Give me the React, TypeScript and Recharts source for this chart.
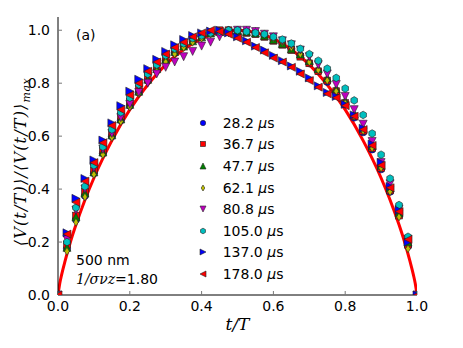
import React from "react";
import { ComposedChart, Scatter, Line, XAxis, YAxis, Legend } from "recharts";

// sample positions t/T shared by all measured series
const tGrid = [
  0, 0.025, 0.05, 0.075, 0.1, 0.125, 0.15, 0.175, 0.2, 0.225, 0.25, 0.275, 0.3, 0.325,
  0.35, 0.375, 0.4, 0.425, 0.45, 0.475, 0.5, 0.525, 0.55, 0.575, 0.6, 0.625, 0.65,
  0.675, 0.7, 0.725, 0.75, 0.775, 0.8, 0.825, 0.85, 0.875, 0.9, 0.925, 0.95, 0.975, 1,
];

// normalised voltage, one array per pulse length
const v28 = [
  0, 0.175, 0.285, 0.375, 0.46, 0.535, 0.6, 0.66, 0.715, 0.765, 0.81, 0.85, 0.885, 0.915,
  0.94, 0.96, 0.975, 0.99, 0.995, 1.0, 1.0, 0.995, 0.99, 0.98, 0.965, 0.95, 0.93, 0.905,
  0.875, 0.845, 0.805, 0.765, 0.72, 0.67, 0.615, 0.55, 0.475, 0.39, 0.3, 0.185, 0,
];
const v36 = [
  0, 0.19, 0.3, 0.39, 0.47, 0.545, 0.61, 0.675, 0.73, 0.78, 0.825, 0.86, 0.895, 0.925,
  0.945, 0.965, 0.98, 0.99, 1.0, 1.0, 0.995, 0.99, 0.985, 0.975, 0.96, 0.945, 0.925, 0.9,
  0.875, 0.845, 0.81, 0.77, 0.725, 0.675, 0.62, 0.555, 0.48, 0.395, 0.3, 0.19, 0,
];
const v47 = [
  0, 0.18, 0.295, 0.385, 0.465, 0.54, 0.605, 0.665, 0.72, 0.77, 0.815, 0.855, 0.89, 0.92,
  0.94, 0.96, 0.975, 0.99, 0.995, 1.0, 1.0, 0.995, 0.99, 0.98, 0.965, 0.95, 0.93, 0.91,
  0.885, 0.855, 0.82, 0.78, 0.735, 0.685, 0.63, 0.565, 0.49, 0.405, 0.31, 0.2, 0,
];
const v62 = [
  0, 0.165, 0.275, 0.37, 0.455, 0.53, 0.595, 0.655, 0.71, 0.76, 0.805, 0.845, 0.88, 0.91,
  0.935, 0.955, 0.97, 0.985, 0.995, 1.0, 1.0, 1.0, 0.995, 0.985, 0.97, 0.955, 0.935, 0.91,
  0.88, 0.85, 0.81, 0.77, 0.725, 0.675, 0.62, 0.555, 0.48, 0.39, 0.295, 0.175, 0,
];
const v80 = [
  0, 0.21, 0.32, 0.4, 0.48, 0.55, 0.61, 0.67, 0.72, 0.765, 0.8, 0.835, 0.86, 0.88,
  0.9, 0.92, 0.94, 0.955, 0.975, 0.99, 1.0, 1.0, 0.995, 0.985, 0.975, 0.96, 0.945, 0.925,
  0.9, 0.87, 0.835, 0.795, 0.75, 0.7, 0.645, 0.58, 0.5, 0.42, 0.325, 0.21, 0,
];
const v105 = [
  0, 0.2, 0.33, 0.41, 0.49, 0.56, 0.625, 0.69, 0.745, 0.795, 0.835, 0.87, 0.905, 0.93,
  0.95, 0.97, 0.98, 0.99, 0.995, 1.0, 1.0, 0.995, 0.99, 0.985, 0.975, 0.965, 0.95, 0.93,
  0.91, 0.885, 0.855, 0.82, 0.78, 0.735, 0.68, 0.61, 0.53, 0.44, 0.34, 0.22, 0,
];
const v137 = [
  0, 0.235, 0.365, 0.44, 0.51, 0.585, 0.65, 0.715, 0.77, 0.815, 0.855, 0.89, 0.92, 0.945,
  0.965, 0.98, 0.99, 0.997, 1.0, 0.99, 0.975, 0.96, 0.94, 0.925, 0.905, 0.885, 0.865, 0.845,
  0.82, 0.79, 0.765, 0.75, 0.72, 0.68, 0.63, 0.57, 0.5, 0.41, 0.32, 0.2, 0,
];
const v178 = [
  0, 0.23, 0.35, 0.43, 0.5, 0.575, 0.64, 0.7, 0.755, 0.8, 0.845, 0.88, 0.91, 0.935,
  0.955, 0.975, 0.99, 1.0, 0.995, 0.985, 0.97, 0.955, 0.935, 0.915, 0.895, 0.88, 0.86, 0.835,
  0.81, 0.785, 0.76, 0.745, 0.715, 0.675, 0.625, 0.565, 0.49, 0.405, 0.315, 0.21, 0,
];

const seriesLabels = ["28.2", "36.7", "47.7", "62.1", "80.8", "105.0", "137.0", "178.0"];
const seriesValues = [v28, v36, v47, v62, v80, v105, v137, v178];
const seriesColors = ["#0000ff", "#ff0000", "#008000", "#bfbf00", "#bf00bf", "#00bfbf", "#0000ff", "#ff0000"];
const seriesMarkers = ["circle", "square", "up", "diamond", "down", "hexagon", "right", "left"];

// model curve
const curveT = [
  0, 0.005, 0.01, 0.02, 0.035, 0.05, 0.075, 0.1, 0.15, 0.2, 0.25, 0.3, 0.35, 0.4, 0.45, 0.5,
  0.55, 0.6, 0.65, 0.7, 0.75, 0.8, 0.85, 0.9, 0.925, 0.95, 0.965, 0.98, 0.99, 0.995, 1,
];
const curveV = [
  0, 0.044, 0.076, 0.13, 0.202, 0.265, 0.359, 0.442, 0.583, 0.7, 0.794, 0.87, 0.927, 0.968, 0.992, 1,
  0.992, 0.968, 0.927, 0.87, 0.794, 0.7, 0.583, 0.442, 0.359, 0.265, 0.202, 0.13, 0.076, 0.044, 0,
];

const xTicks = [0, 0.2, 0.4, 0.6, 0.8, 1.0];
const yTicks = [0, 0.2, 0.4, 0.6, 0.8, 1.0];

const curveData = curveT.map((t, i) => ({ t, v: curveV[i] }));
const series = seriesLabels.map((label, i) => ({
  label,
  color: seriesColors[i],
  marker: seriesMarkers[i],
  data: tGrid.map((t, j) => ({ t, v: seriesValues[i][j] })),
}));

const SANS = "'DejaVu Sans', sans-serif";
const SERIF = "'DejaVu Serif', 'Liberation Serif', serif";

function Marker({ kind, cx, cy, r, fill }: { kind: string; cx: number; cy: number; r: number; fill: string }) {
  const common = { fill, stroke: "#222", strokeWidth: 0.6 };
  const pts = (arr: number[][]) => arr.map((p) => `${cx + p[0] * r},${cy + p[1] * r}`).join(" ");
  switch (kind) {
    case "circle":
      return <circle cx={cx} cy={cy} r={r * 0.9} {...common} />;
    case "square":
      return <rect x={cx - r * 0.85} y={cy - r * 0.85} width={r * 1.7} height={r * 1.7} {...common} />;
    case "up":
      return <polygon points={pts([[0, -1], [1, 1], [-1, 1]])} {...common} />;
    case "down":
      return <polygon points={pts([[0, 1], [1, -1], [-1, -1]])} {...common} />;
    case "right":
      return <polygon points={pts([[1, 0], [-1, -1], [-1, 1]])} {...common} />;
    case "left":
      return <polygon points={pts([[-1, 0], [1, -1], [1, 1]])} {...common} />;
    case "diamond":
      return <polygon points={pts([[0, -1], [0.6, 0], [0, 1], [-0.6, 0]])} {...common} />;
    default: {
      const hex = [0, 1, 2, 3, 4, 5].map((k) => {
        const a = -Math.PI / 2 + (k * Math.PI) / 3;
        return [Math.cos(a) * 0.95, Math.sin(a) * 0.95];
      });
      return <polygon points={pts(hex)} {...common} />;
    }
  }
}

function renderLegend() {
  return (
    <div style={{ fontFamily: SANS, fontSize: 14, color: "#000" }}>
      {series.map((s) => (
        <div key={s.label} style={{ display: "flex", alignItems: "center", height: 21.6 }}>
          <svg width={14} height={14} style={{ display: "block" }}>
            <Marker kind={s.marker} cx={7} cy={7} r={3} fill={s.color} />
          </svg>
          <span style={{ marginLeft: 12.7, whiteSpace: "nowrap" }}>
            {s.label} <i>μ</i>s
          </span>
        </div>
      ))}
    </div>
  );
}

function YLabel() {
  return (
    <text
      x={0}
      y={0}
      transform="translate(26,162) rotate(-90)"
      textAnchor="middle"
      fontFamily={SERIF}
      fontStyle="italic"
      fontSize={16}
      letterSpacing={1.2}
      fill="#000"
    >
      ⟨V(t/T)⟩/⟨V(t/T)⟩
      <tspan fontSize={11} dy={4} letterSpacing={0.5}>max</tspan>
    </text>
  );
}

const tickStyle = { fill: "#000", fontSize: 14, fontFamily: SANS };
const noLabel = () => <g />;

export default function App() {
  return (
    <div style={{ position: "absolute", left: 0, top: 0, width: 463, height: 348, background: "#fff" }}>
      <ComposedChart width={463} height={348} margin={{ top: 17, right: 46, bottom: 0, left: 0 }}>
        <XAxis
          type="number"
          dataKey="t"
          domain={[0, 1]}
          ticks={xTicks}
          allowDataOverflow
          tickFormatter={(v: number) => v.toFixed(1)}
          tick={tickStyle}
          tickSize={-4}
          tickMargin={10}
          tickLine={{ stroke: "#777" }}
          axisLine={{ stroke: "#000" }}
          height={53}
          label={{
            value: "t/T",
            position: "insideBottom",
            offset: 18,
            fontFamily: SERIF,
            fontStyle: "italic",
            fontSize: 17,
            fill: "#000",
          }}
        />
        <XAxis
          xAxisId="top"
          orientation="top"
          type="number"
          dataKey="t"
          domain={[0, 1]}
          ticks={xTicks}
          allowDataOverflow
          tick={noLabel}
          tickSize={-4}
          tickLine={{ stroke: "#777" }}
          axisLine={{ stroke: "#000" }}
          height={0}
        />
        <YAxis
          type="number"
          domain={[0, 1.05]}
          ticks={yTicks}
          allowDataOverflow
          tickFormatter={(v: number) => v.toFixed(1)}
          tick={tickStyle}
          tickSize={-4}
          tickMargin={12}
          tickLine={{ stroke: "#777" }}
          axisLine={{ stroke: "#000" }}
          width={58}
          label={{ content: () => <YLabel /> }}
        />
        <YAxis
          yAxisId="right"
          orientation="right"
          type="number"
          domain={[0, 1.05]}
          ticks={yTicks}
          allowDataOverflow
          tick={noLabel}
          tickSize={-4}
          tickLine={{ stroke: "#777" }}
          axisLine={{ stroke: "#000" }}
          width={0}
        />
        <Legend
          layout="vertical"
          align="center"
          verticalAlign="middle"
          content={renderLegend}
          wrapperStyle={{ left: 196, top: 112, width: 140 }}
        />
        {series.map((s) => (
          <Scatter
            key={s.label}
            name={s.label}
            data={s.data}
            dataKey="v"
            isAnimationActive={false}
            shape={(p: any) => <Marker kind={s.marker} cx={p.cx} cy={p.cy} r={4} fill={s.color} />}
          />
        ))}
        <Line
          data={curveData}
          dataKey="v"
          type="monotone"
          stroke="#ff0000"
          strokeWidth={3}
          dot={false}
          activeDot={false}
          isAnimationActive={false}
        />
      </ComposedChart>
      <svg width={463} height={348} style={{ position: "absolute", left: 0, top: 0, pointerEvents: "none" }}>
        <text x={76} y={40} fontFamily={SANS} fontSize={14} fill="#000">(a)</text>
        <text x={76} y={265} fontFamily={SANS} fontSize={14} fill="#000">500 nm</text>
        <text x={76} y={284} fontSize={14} fill="#000">
          <tspan fontFamily={SERIF} fontStyle="italic">1/σνz</tspan>
          <tspan fontFamily={SERIF}>=</tspan>
          <tspan fontFamily={SANS}>1.80</tspan>
        </text>
      </svg>
    </div>
  );
}
